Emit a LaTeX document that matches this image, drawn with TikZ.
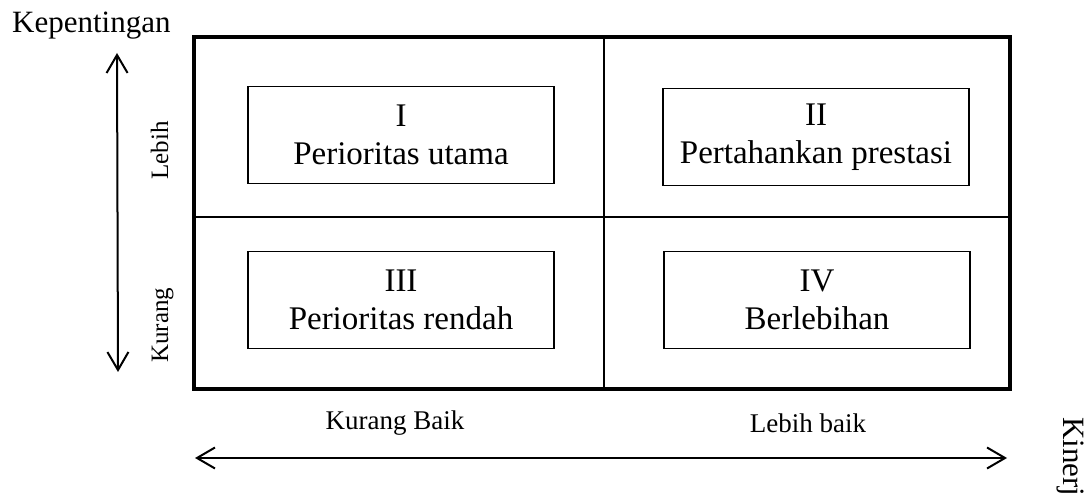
\documentclass[tikz,border=0pt]{standalone}
\usepackage{fontspec}
\setmainfont{Liberation Serif}
\usetikzlibrary{arrows.meta}

\begin{document}
\begin{tikzpicture}[x=1pt,y=1pt,>={Straight Barb[length=18pt,width=21pt]},
  frame node/.style={draw,line width=4.5pt,minimum width=816pt,minimum height=352pt,inner sep=0pt},
  quad node/.style={draw,line width=1.3pt,minimum width=306pt,minimum height=97pt,
    inner sep=0pt,align=center,font=\fontsize{33}{38}\selectfont},
  side label/.style={inner sep=0pt,font=\fontsize{25}{30}\selectfont},
  axis label/.style={inner sep=0pt,font=\fontsize{31}{36}\selectfont}]

  \useasboundingbox (0,0) rectangle (1092,495);

  \node[frame node] (grid) at (602,282) {};
  \node[quad node] (q1) at (401,360) {I \\ Perioritas utama};
  \node[quad node] (q2) at (816,358) {II \\ Pertahankan prestasi};
  \node[quad node] (q3) at (401,195) {III \\ Perioritas rendah};
  \node[quad node] (q4) at (817,195) {IV \\ Berlebihan};

  \coordinate (midtop) at (604,458);
  \coordinate (midbot) at (604,106);
  \coordinate (midleft) at (194,278);
  \coordinate (midright) at (1010,278);
  \draw[line width=1.5pt] (midtop) -- (midbot);
  \draw[line width=1.5pt] (midleft) -- (midright);

  \node[axis label,anchor=base west] (kep) at (12,462) {Kepentingan};
  \node[axis label,anchor=base west,rotate=-90] (kin) at (1063,78) {Kinerja};

  \node[side label,anchor=base west,rotate=90] (lebih) at (168,315) {Lebih};
  \node[side label,anchor=base west,rotate=90] (kurang) at (168,132) {Kurang};
  \node[side label,font=\fontsize{27}{32}\selectfont] (kbaik) at (395,72) {Kurang Baik};
  \node[side label,font=\fontsize{27}{32}\selectfont] (lbaik) at (808,72) {Lebih baik};

  \coordinate (vtop) at (117,442);
  \coordinate (vbot) at (118,123);
  \coordinate (hleft) at (195,37);
  \coordinate (hright) at (1007,37);
  \path[line width=2pt]
    (vtop) edge[<->] (vbot)
    (hleft) edge[<->] (hright);
\end{tikzpicture}
\end{document}
